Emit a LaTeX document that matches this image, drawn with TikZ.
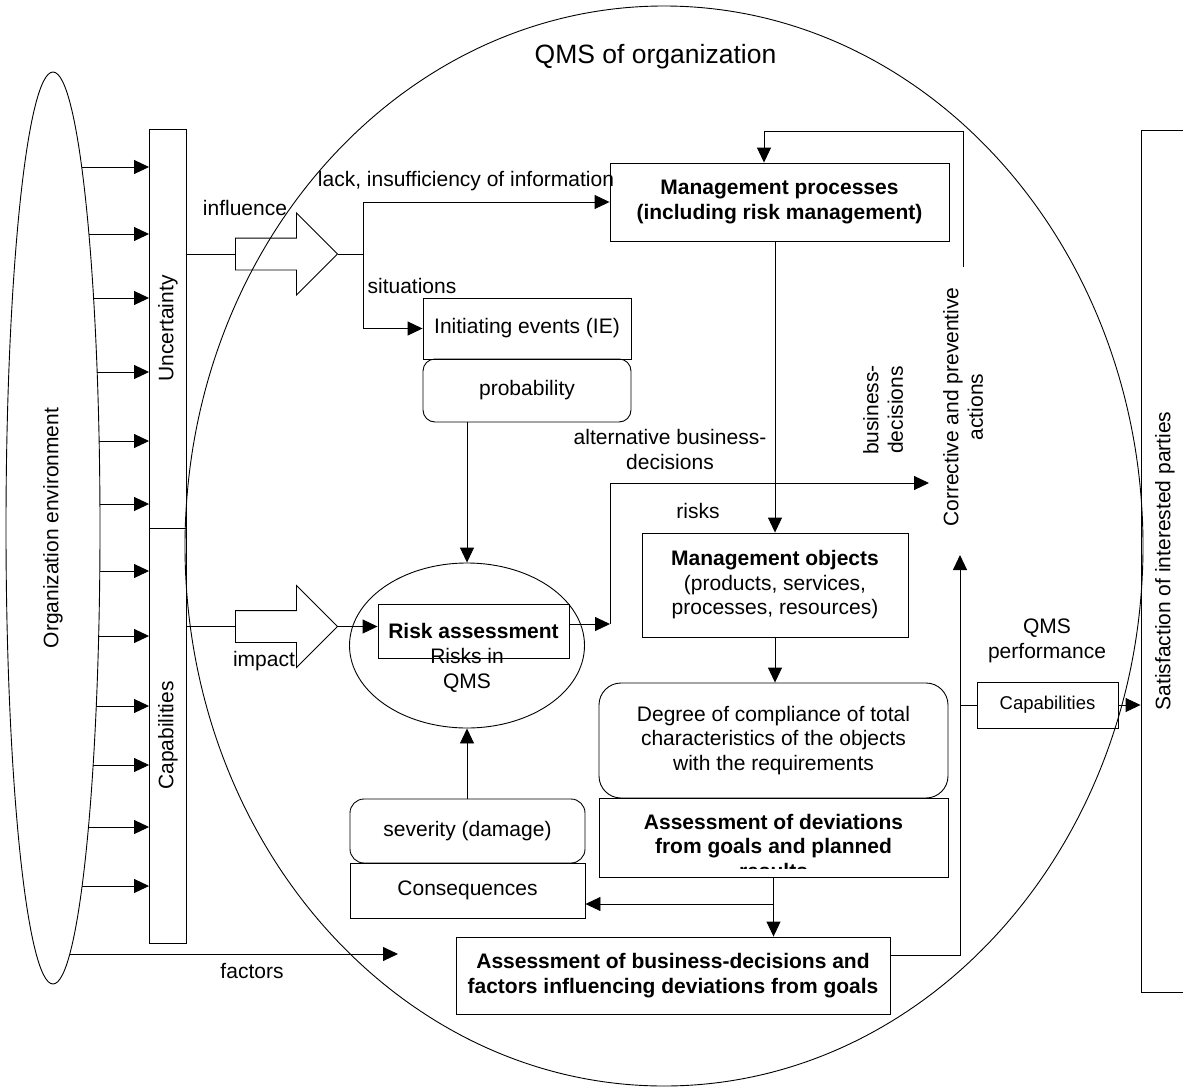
\documentclass[tikz,border=0pt]{standalone}
\usepackage{fontspec}
\setmainfont{Liberation Sans}
\usetikzlibrary{arrows.meta,shapes.geometric,shapes.arrows}

\tikzset{
  arr/.style={-{Triangle[length=15pt,width=14pt]}},
  box/.style={draw,rectangle,inner sep=0pt,align=center},
  rbox/.style={box,rounded corners=#1},
  rbox/.default=12pt,
  oval/.style={draw,ellipse,inner sep=0pt,align=center},
  bigarrow/.style={draw,single arrow,single arrow head extend=25pt,
    single arrow tip angle=90,inner xsep=0pt,inner ysep=15.5pt,
    minimum width=81pt,minimum height=102pt},
  lbl/.style={inner sep=0pt,align=center},
  bold/.style={font=\fontsize{21}{24.5}\selectfont\bfseries},
}

\begin{document}
\begin{tikzpicture}[x=1pt,y=-1pt,line width=0.9pt,
  font=\fontsize{21}{24.5}\selectfont]
  \useasboundingbox (0,0) rectangle (1183,1087);

  % environment, QMS and parties
  \node[oval,rotate=90,minimum width=912,minimum height=94] (env) at (53,528) {Organization environment};
  \node[oval,minimum width=958,minimum height=1080] (qms) at (664,546) {};
  \node[lbl,font=\fontsize{26.5}{30}\selectfont] (qmst) at (655.5,57) {QMS of organization};
  \node[box,rotate=90,minimum width=399,minimum height=37] (unc) at (168,328.5) {Uncertainty};
  \node[box,rotate=90,minimum width=415,minimum height=37] (cap) at (168,735.5) {Capabilities};
  \node[box,rotate=90,minimum width=862,minimum height=48] (sat) at (1165,561) {Satisfaction of interested parties};

  % inputs
  \node[bigarrow,anchor=tail] (infl) at (235,254) {};
  \node[bigarrow,anchor=tail] (imp) at (235,626.5) {};

  % boxes
  \node[box,minimum width=339,minimum height=78,bold] (mproc) at (779.5,202) {Management processes\\(including risk management)};
  \node[box,minimum width=208,minimum height=61] (ie) at (527,328.5) {Initiating events (IE)};
  \node[rbox,minimum width=208,minimum height=63] (prob) at (527,390.5) {probability};
  \node[oval,minimum width=235,minimum height=165] (risk) at (467,645.5) {};
  \node[box,minimum width=191,minimum height=54,bold] (ra) at (473.5,631) {Risk assessment};
  \node[lbl] (rq) at (467,670.5) {Risks in\\QMS};
  \node[rbox=14pt,minimum width=235,minimum height=64] (sev) at (467.5,831) {severity (damage)};
  \node[box,minimum width=235,minimum height=55] (cons) at (467.5,890.5) {Consequences};
  \node[box,minimum width=266,minimum height=104] (mobj) at (775,585) {\textbf{Management objects}\\(products, services,\\processes, resources)};
  \node[rbox=22pt,minimum width=349,minimum height=115] (deg) at (773.5,740.5) {Degree of compliance of total\\characteristics of the objects\\with the requirements};
  \node[box,minimum width=349,minimum height=79] (dev) at (773.5,837.5) {};
  \begin{scope}
    \clip (dev.north west) rectangle (dev.east |- 0,868);
    \node[lbl,bold] (devt) at (773.5,846) {Assessment of deviations\\from goals and planned\\results};
  \end{scope}
  \node[box,minimum width=434,minimum height=77,bold] (abd) at (673,975.5) {Assessment of business-decisions and\\factors influencing deviations from goals};
  \node[lbl,rotate=90,inner xsep=20pt] (corr) at (963,407) {Corrective and preventive\\actions};
  \node[box,minimum width=141,minimum height=46,font=\fontsize{18.5}{22}\selectfont] (capq) at (1047.5,705) {Capabilities};

  % labels
  \node[lbl] (inf) at (245,208) {influence};
  \node[lbl] (impt) at (264,661) {impact};
  \node[lbl] (lack) at (466,181) {lack, insufficiency of information};
  \node[lbl] (sit) at (412,286) {situations};
  \node[lbl] (altd) at (670,449.5) {alternative business-\\decisions};
  \node[lbl] (rsk) at (698,511) {risks};
  \node[lbl,rotate=90] (bdec) at (883,410) {business-\\decisions};
  \node[lbl] (perf) at (1047,641) {QMS\\performance};
  \node[lbl] (fac) at (252,971) {factors};

  % connectors
  \foreach \y in {167,234,298,372,441,504}{
    \pgfmathsetmacro{\xs}{53+47*sqrt(1-((\y-528)/456)^2)}
    \draw[arr] (\xs,\y) -- (unc.north |- 0,\y);
  }
  \foreach \y in {571,636,706,765,827,886}{
    \pgfmathsetmacro{\xs}{53+47*sqrt(1-((\y-528)/456)^2)}
    \draw[arr] (\xs,\y) -- (cap.north |- 0,\y);
  }
  \draw (unc.south |- infl.tail) -- (infl.tail);
  \draw (cap.south |- imp.tail) -- (imp.tail);
  \coordinate (br) at (363,254);
  \draw (infl.tip) -- (br);
  \draw[arr] (br) |- (mproc.west);
  \draw[arr] (br) |- (ie.west);
  \draw[arr] (risk.north |- prob.south) -- (risk.north);
  \draw[arr] (imp.tip) -- (ra.west |- imp.tip);
  \coordinate (ra2) at (610,624);
  \coordinate (bd) at (929,483);
  \draw[arr] (ra.east |- ra2) -- (ra2);
  \draw[arr] (ra2) |- (bd);
  \draw[arr] (mobj.north |- mproc.south) -- (mobj.north);
  \draw[arr] (mobj.south) -- (mobj.south |- deg.north);
  \draw[arr] (dev.south) -- (dev.south |- abd.north);
  \coordinate (cb) at (773.5,904);
  \draw[arr] (cb) -- (cons.east |- cb);
  \draw[arr] (risk.south |- sev.north) -- (risk.south);
  \coordinate (facs) at (70,954);
  \coordinate (face) at (398,954);
  \draw[arr] (facs) -- (face);
  \coordinate (ca) at (960,555);
  \draw[arr] (abd.east |- 0,955) -| (ca);
  \draw (ca |- capq.west) -- (capq.west);
  \draw[arr] (capq.east) -- (sat.north |- capq.east);
  \coordinate (fb) at (764,131);
  \draw[arr] (corr.east) |- (fb) -- (fb |- mproc.north);
\end{tikzpicture}
\end{document}
